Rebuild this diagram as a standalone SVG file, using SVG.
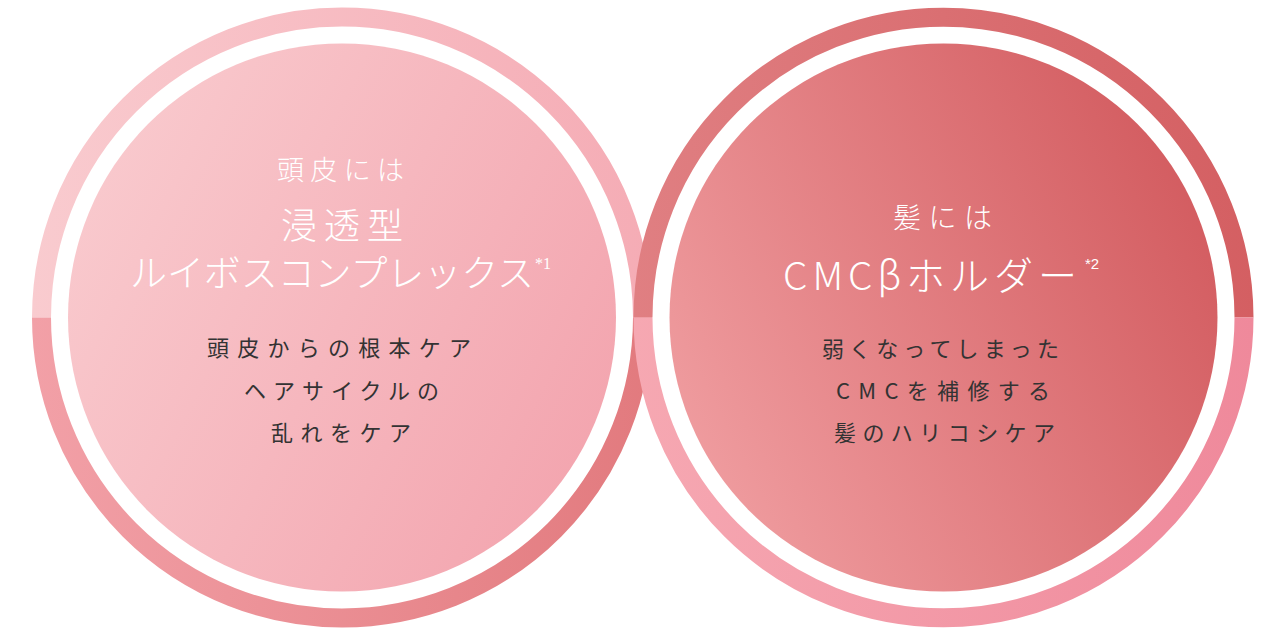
<svg xmlns="http://www.w3.org/2000/svg" width="1271" height="629" viewBox="0 0 1271 629">
  <style>
    .ring { fill: none; stroke-width: 19; stroke-linecap: butt; }
    .title { fill: #ffffff; font-family: "Noto Sans CJK JP", "Noto Sans", sans-serif; font-weight: 300; }
    .body { fill: #333333; font-family: "Noto Sans CJK JP", "Noto Sans", sans-serif; font-weight: 400; font-size: 22px; }
    .sup1 { fill: #ffffff; font-family: "Liberation Serif", serif; font-size: 16px; }
    .sup2 { fill: #ffffff; font-family: "Liberation Sans", sans-serif; font-size: 15px; }
  </style>
  <defs>
    <linearGradient id="lTop" gradientUnits="userSpaceOnUse" x1="32" y1="0" x2="652" y2="0">
      <stop offset="0" stop-color="#f9cbcf"/>
      <stop offset="1" stop-color="#f5acb5"/>
    </linearGradient>
    <linearGradient id="lBot" gradientUnits="userSpaceOnUse" x1="32" y1="0" x2="652" y2="0">
      <stop offset="0" stop-color="#f2a0a7"/>
      <stop offset="1" stop-color="#e27a7e"/>
    </linearGradient>
    <linearGradient id="lDisk" x1="0" y1="0.25" x2="1" y2="0.75">
      <stop offset="0" stop-color="#f9cace"/>
      <stop offset="1" stop-color="#f3a4ae"/>
    </linearGradient>
    <linearGradient id="rTop" gradientUnits="userSpaceOnUse" x1="633" y1="0" x2="1254" y2="0">
      <stop offset="0" stop-color="#e07f82"/>
      <stop offset="1" stop-color="#d45f62"/>
    </linearGradient>
    <linearGradient id="rBot" gradientUnits="userSpaceOnUse" x1="633" y1="0" x2="1254" y2="0">
      <stop offset="0" stop-color="#f6a8b2"/>
      <stop offset="1" stop-color="#ef899b"/>
    </linearGradient>
    <linearGradient id="rDisk" x1="0" y1="0.75" x2="1" y2="0.25">
      <stop offset="0" stop-color="#f09ea1"/>
      <stop offset="1" stop-color="#d25a5e"/>
    </linearGradient>
  </defs>

  <g id="node-left">
    <path class="ring" stroke="url(#lTop)" d="M 41.5 317.5 A 300.5 300.5 0 0 1 642.5 317.5"/>
    <path class="ring" stroke="url(#lBot)" d="M 642.5 317.5 A 300.5 300.5 0 0 1 41.5 317.5"/>
    <circle cx="342" cy="317.5" r="274" fill="url(#lDisk)"/>
    <text class="title" x="277" y="180" font-size="27" textLength="127" lengthAdjust="spacing">頭皮には</text>
    <text class="title" x="281" y="239" font-size="36" textLength="122" lengthAdjust="spacing">浸透型</text>
    <text class="title" x="130" y="287" font-size="37" textLength="404" lengthAdjust="spacing">ルイボスコンプレックス</text>
    <text class="sup1" x="535" y="269">*1</text>
    <text class="body" x="207" y="356" textLength="264" lengthAdjust="spacing">頭皮からの根本ケア</text>
    <text class="body" x="244" y="398.5" textLength="195" lengthAdjust="spacing">ヘアサイクルの</text>
    <text class="body" x="271" y="441" textLength="140" lengthAdjust="spacing">乱れをケア</text>
  </g>

  <g id="node-right">
    <path class="ring" stroke="url(#rTop)" d="M 643 317.5 A 300.5 300.5 0 0 1 1244 317.5"/>
    <path class="ring" stroke="url(#rBot)" d="M 1244 317.5 A 300.5 300.5 0 0 1 643 317.5"/>
    <circle cx="943.5" cy="317.5" r="274" fill="url(#rDisk)"/>
    <text class="title" x="893" y="228" font-size="28" textLength="99" lengthAdjust="spacing">髪には</text>
    <text class="title" x="783" y="290" font-size="39" textLength="294" lengthAdjust="spacing">CMCβホルダー</text>
    <text class="sup2" x="1085" y="269">*2</text>
    <text class="body" x="822" y="357" textLength="237" lengthAdjust="spacing">弱くなってしまった</text>
    <text class="body" x="836" y="399" textLength="214" lengthAdjust="spacing">CMCを補修する</text>
    <text class="body" x="834" y="441" textLength="221" lengthAdjust="spacing">髪のハリコシケア</text>
  </g>

  <g id="connectors"/>
</svg>
